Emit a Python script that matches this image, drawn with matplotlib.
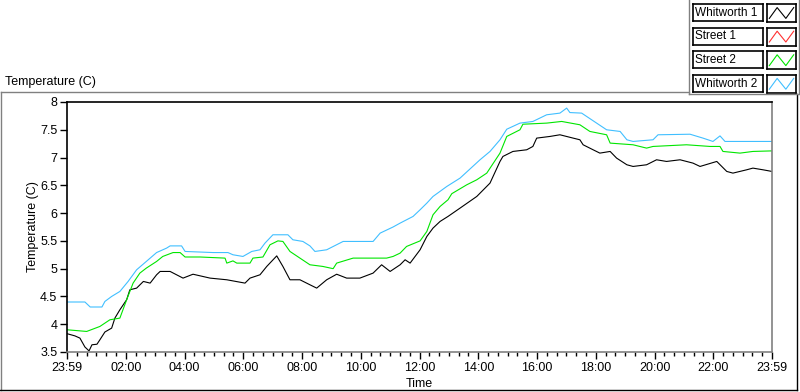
"""Daily temperature trace, four loggers (LabVIEW-style chart)."""
import numpy as np
import matplotlib
matplotlib.use("Agg")
import matplotlib.pyplot as plt
from matplotlib.lines import Line2D
from matplotlib.ticker import FixedLocator, MultipleLocator, FuncFormatter

plt.rcParams.update({"font.family": ["Liberation Sans", "DejaVu Sans"], "font.size": 9})

# ---------- data (hours since 23:59 of the previous day, deg C) ----------
series_names = ["Whitworth 1", "Street 1", "Street 2", "Whitworth 2"]
series_colors = ["#000000", "#ff3030", "#00e600", "#40bfff"]

t_w1 = [0.00, 0.27, 0.44, 0.61, 0.75, 0.85, 1.02, 1.12, 1.29, 1.52, 1.63, 1.80, 2.03, 2.14, 2.37, 2.60,
        2.83, 3.05, 3.17, 3.51, 3.95, 4.29, 4.87, 5.44, 6.06, 6.23, 6.57, 6.80, 7.14, 7.35, 7.59, 7.93,
        8.27, 8.50, 8.84, 9.18, 9.52, 9.97, 10.42, 10.71, 11.00, 11.34, 11.51, 11.68, 12.02, 12.25, 12.46,
        12.70, 12.97, 13.38, 13.95, 14.40, 14.74, 14.84, 15.18, 15.65, 15.86, 15.99, 16.44, 16.78, 17.23,
        17.46, 17.57, 17.91, 18.14, 18.49, 18.71, 19.06, 19.27, 19.73, 20.07, 20.41, 20.87, 21.31, 21.55,
        22.12, 22.46, 22.67, 23.14, 23.35, 23.69, 24.0]
v_w1 = [3.83, 3.79, 3.75, 3.59, 3.52, 3.63, 3.64, 3.72, 3.86, 3.93, 4.11, 4.26, 4.44, 4.62, 4.65, 4.77,
        4.74, 4.89, 4.95, 4.95, 4.83, 4.90, 4.83, 4.80, 4.74, 4.83, 4.89, 5.04, 5.23, 5.04, 4.80, 4.80,
        4.71, 4.65, 4.80, 4.90, 4.83, 4.83, 4.92, 5.07, 4.95, 5.07, 5.16, 5.10, 5.34, 5.58, 5.73,
        5.85, 5.94, 6.09, 6.30, 6.54, 6.93, 7.02, 7.11, 7.14, 7.20, 7.35, 7.38, 7.41, 7.35,
        7.32, 7.23, 7.14, 7.08, 7.11, 6.99, 6.87, 6.84, 6.87, 6.96, 6.93, 6.96, 6.90, 6.84,
        6.93, 6.75, 6.72, 6.78, 6.81, 6.78, 6.75]

t_s2 = [0.00, 0.67, 1.12, 1.46, 1.80, 2.03, 2.25, 2.48, 2.70, 3.05, 3.26, 3.61, 3.85, 4.02, 4.53, 5.38,
        5.44, 5.65, 5.78, 6.23, 6.33, 6.67, 6.91, 7.18, 7.35, 7.59, 7.93, 8.27, 8.71, 9.06, 9.18, 9.74,
        10.88, 11.10, 11.34, 11.56, 12.02, 12.25, 12.46, 12.70, 12.97, 13.10, 13.61, 13.95, 14.29, 14.74,
        14.97, 15.42, 15.52, 16.33, 16.84, 17.46, 17.80, 18.37, 18.49, 19.27, 19.73, 19.95, 21.09, 21.89,
        22.23, 22.33, 22.91, 23.35, 24.0]
v_s2 = [3.90, 3.87, 3.96, 4.08, 4.11, 4.44, 4.74, 4.92, 5.01, 5.13, 5.22, 5.29, 5.29, 5.21, 5.21, 5.19,
        5.10, 5.14, 5.10, 5.10, 5.19, 5.21, 5.43, 5.50, 5.49, 5.31, 5.19, 5.07, 5.04, 5.00, 5.10, 5.19,
        5.19, 5.22, 5.28, 5.40, 5.50, 5.67, 5.97, 6.12, 6.24, 6.35, 6.51, 6.60, 6.72, 7.08,
        7.38, 7.50, 7.60, 7.62, 7.65, 7.59, 7.47, 7.41, 7.26, 7.23, 7.17, 7.20, 7.23, 7.20,
        7.20, 7.11, 7.08, 7.11, 7.12]

t_w2 = [0.00, 0.61, 0.79, 1.19, 1.29, 1.52, 1.80, 2.08, 2.37, 2.70, 3.05, 3.39, 3.51, 3.90, 4.02, 4.97,
        5.48, 5.65, 5.99, 6.29, 6.57, 6.74, 7.01, 7.52, 7.69, 8.03, 8.27, 8.44, 8.84, 9.40, 10.42, 10.66,
        11.10, 11.34, 11.78, 12.02, 12.25, 12.46, 12.93, 13.38, 14.06, 14.40, 14.74, 14.97, 15.42, 15.86,
        16.33, 16.78, 17.01, 17.12, 17.52, 17.86, 18.37, 18.83, 19.06, 19.27, 19.95, 20.12, 21.21, 21.65,
        21.99, 22.23, 22.40, 24.0]
v_w2 = [4.40, 4.40, 4.31, 4.31, 4.41, 4.50, 4.59, 4.77, 4.98, 5.13, 5.29, 5.37, 5.41, 5.41, 5.31, 5.29,
        5.29, 5.25, 5.22, 5.31, 5.34, 5.46, 5.61, 5.61, 5.52, 5.49, 5.41, 5.31, 5.34, 5.49, 5.49, 5.64,
        5.75, 5.82, 5.94, 6.06, 6.18, 6.30, 6.48, 6.63, 6.96, 7.11, 7.32, 7.51, 7.62, 7.65,
        7.77, 7.80, 7.89, 7.81, 7.80, 7.68, 7.50, 7.47, 7.32, 7.29, 7.32, 7.41, 7.42, 7.35,
        7.29, 7.39, 7.29, 7.29]

x_ticks = [0, 2, 4, 6, 8, 10, 12, 14, 16, 18, 20, 22, 24]
x_labels = ["23:59", "02:00", "04:00", "06:00", "08:00", "10:00", "12:00",
            "14:00", "16:00", "18:00", "20:00", "22:00", "23:59"]

W, H = 800, 392
fig = plt.figure(figsize=(W / 100, H / 100), dpi=100)
fx = lambda px: px / W
fy = lambda py: 1 - py / H

# ---------- main plot ----------
ax = fig.add_axes([fx(67), fy(352), fx(772 - 67), (352 - 102) / H])
for t, v, col in [(t_w1, v_w1, series_colors[0]), (t_s2, v_s2, series_colors[2]), (t_w2, v_w2, series_colors[3])]:
    ax.plot(t, v, color=col, lw=0.8)
ax.set_xlim(0, 24); ax.set_ylim(3.5, 8)
ax.xaxis.set_major_locator(FixedLocator(x_ticks)); ax.set_xticklabels(x_labels)
ax.xaxis.set_minor_locator(MultipleLocator(1 / 3))
ax.yaxis.set_major_locator(MultipleLocator(0.5))
ax.yaxis.set_major_formatter(FuncFormatter(lambda v, p: f"{v:g}"))
ax.tick_params(axis="both", which="major", length=5, width=1, color="black", direction="out", pad=2, labelsize=9)
ax.tick_params(axis="x", which="minor", length=3, width=1, color="black")
for s in ["left", "top"]: ax.spines[s].set_color("black")
for s in ["right", "bottom"]: ax.spines[s].set_color("#808080")
for s in ax.spines.values(): s.set_linewidth(1.2)
ax.set_xlabel("Time", fontsize=9, labelpad=3)
ax.set_ylabel("Temperature (C)", fontsize=9)
ax.yaxis.set_label_coords(-0.04, 0.5)

# ---------- outer frame + caption ----------
fig.text(fx(5), fy(82), "Temperature (C)", fontsize=9, va="center", ha="left")
frame = [((0.5, 689), (92, 92), "#808080"), ((0.5, 0.5), (92, 390), "#808080"),
         ((0, 797), (389.5, 389.5), "black"), ((797, 797), (94, 390), "black"),
         ((689, 689), (0, 94), "#808080"), ((689, 798), (94, 94), "#808080"),
         ((798.5, 798.5), (0, 94), "#808080")]
for xs, ys, col in frame:
    fig.add_artist(Line2D([fx(xs[0]), fx(xs[1])], [fy(ys[0]), fy(ys[1])], color=col, lw=1))

# ---------- legend (text box + swatch per series) ----------
icon_x = [0.08, 0.35, 0.65, 0.92]; icon_y = [0.2, 0.8, 0.2, 0.8]
for i, (name, col) in enumerate(zip(series_names, series_colors)):
    top = 4 + i * 23.6
    tb = fig.add_axes([fx(692.5), fy(top + 17), fx(763 - 692.5), 17 / H])
    tb.set_xticks([]); tb.set_yticks([])
    tb.text(0.03, 0.48, name, fontsize=8.5, va="center", ha="left", transform=tb.transAxes)
    sw = fig.add_axes([fx(767), fy(top + 18), fx(796 - 767), 18 / H])
    sw.set_xticks([]); sw.set_yticks([]); sw.set_xlim(0, 1); sw.set_ylim(0, 1)
    sw.plot(icon_x, icon_y, color=col, lw=0.8)
    for a in (tb, sw):
        for s in a.spines.values(): s.set_linewidth(1.2); s.set_color("black")

fig.savefig("out.png", dpi=100)
